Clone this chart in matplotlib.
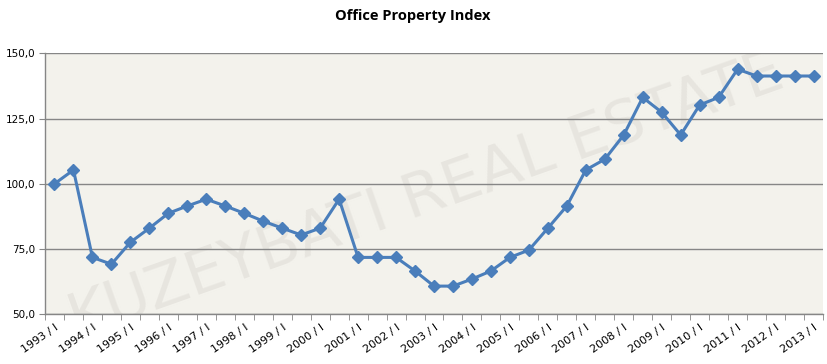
import matplotlib
matplotlib.use("Agg")
import matplotlib.pyplot as plt
import numpy as np

years = list(range(1993, 2014))
periods = []
for y in years:
    periods.append(f"{y} / I")
    if y != 2013:
        periods.append(f"{y} / II")

values = [100.0, 105.3, 71.8, 69.2, 77.6, 83.0, 88.7, 91.5, 94.1, 91.5,
          88.7, 85.7, 83.0, 80.4, 83.0, 94.1, 71.8, 71.8, 71.8, 66.6,
          60.8, 60.8, 63.5, 66.6, 71.8, 74.6, 83.0, 91.5, 105.3, 109.4,
          118.7, 133.1, 127.4, 118.7, 130.2, 133.1, 143.9, 141.3, 141.3, 141.3,
          141.3]

yticks = [50, 75, 100, 125, 150]
title = "Office Property Index"
watermark = "KUZEYBATI REAL ESTATE"

fig = plt.figure(figsize=(8.28, 3.64), dpi=100)
ax = fig.add_axes([45/828, 1-314.3/364, (823-45)/828, (314.3-53.3)/364])
ax.set_facecolor("#f3f2ec")

x = np.arange(len(values))
ax.set_ylim(50, 150)
ax.set_xlim(-0.5, len(values) - 0.5)
ax.set_yticks(yticks)
ax.set_yticklabels([f"{v:.1f}".replace(".", ",") for v in yticks], fontsize=7.5, family="DejaVu Sans")
ax.yaxis.grid(True, color="#868686", linewidth=1.0)
ax.set_axisbelow(True)

ax.text(0.49, 0.45, watermark, transform=ax.transAxes, rotation=19.5, ha="center", va="center",
        fontsize=44, color="#e7e5df", family="DejaVu Sans", zorder=0.5, clip_on=True)

ax.plot(x, values, color="#4a7ebb", linewidth=2.2, marker="D", markersize=6,
        markerfacecolor="#4a7ebb", markeredgecolor="#4a7ebb", zorder=3)

major = x[::2]
ax.set_xticks(major)
ax.set_xticklabels([periods[i] for i in major], rotation=35, ha="right",
                   rotation_mode="anchor", fontsize=8, family="DejaVu Sans")
ax.set_xticks(np.arange(-0.5, len(values)), minor=True)
ax.tick_params(axis="x", which="major", length=0, pad=6)
ax.tick_params(axis="x", which="minor", length=4, color="#868686", direction="out")
ax.tick_params(axis="y", length=4, color="#868686", direction="out", pad=3)

for s in ["top", "right"]:
    ax.spines[s].set_visible(False)
for s in ["left", "bottom"]:
    ax.spines[s].set_color("#868686")
    ax.spines[s].set_linewidth(1.0)

fig.text(413/828, 1-16/364, title, ha="center", va="center", fontsize=10.5,
         fontweight="bold", family="Open Sans")

fig.savefig("out.png", dpi=100, facecolor="white")
